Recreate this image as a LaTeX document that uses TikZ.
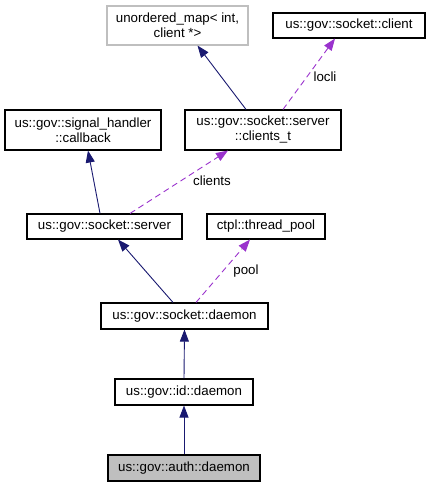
\documentclass[tikz,border=0pt]{standalone}
\usepackage{fontspec}
\setmainfont{Liberation Sans}
\usetikzlibrary{arrows.meta}
\definecolor{edgenavy}{HTML}{191970}
\definecolor{edgepurple}{HTML}{9A32CD}
\definecolor{boxgray}{HTML}{BFBFBF}
\tikzset{
  cls/.style={draw=black, line width=1.1pt, fill=white, inner sep=0pt, align=center,
    font=\fontsize{13.3}{15}\selectfont},
  extcls/.style={cls, draw=boxgray},
  focus/.style={cls, fill=boxgray},
  inherit/.style={draw=edgenavy, line width=0.9pt,
    -{Triangle[length=12pt, width=9pt, fill=edgenavy]}},
  member/.style={draw=edgepurple, line width=0.9pt, dash pattern=on 6pt off 4pt,
    -{Triangle[length=12pt, width=9pt, fill=edgepurple]}},
  lbl/.style={font=\fontsize{13.3}{15}\selectfont, inner sep=0pt}
}
\begin{document}
\begin{tikzpicture}[x=1pt, y=-1pt]
\useasboundingbox (0,0) rectangle (429,487);
% classes
\node[extcls, minimum width=141pt, minimum height=39pt] (umap) at (177.5,25.5) {unordered\_map< int,\\client *>};
\node[cls, minimum width=152pt, minimum height=25pt] (client) at (349,25.5) {us::gov::socket::client};
\node[cls, minimum width=156pt, minimum height=40pt] (callback) at (83,130) {us::gov::signal\_handler\\::callback};
\node[cls, minimum width=156pt, minimum height=40pt] (clientst) at (263,130) {us::gov::socket::server\\::clients\_t};
\node[cls, minimum width=155pt, minimum height=25pt] (server) at (104.5,226.5) {us::gov::socket::server};
\node[cls, minimum width=118pt, minimum height=25pt] (pool) at (266,226.5) {ctpl::thread\_pool};
\node[cls, minimum width=167pt, minimum height=26pt] (sdaemon) at (184.5,316) {us::gov::socket::daemon};
\node[cls, minimum width=138pt, minimum height=26pt] (iddaemon) at (184,392) {us::gov::id::daemon};
\node[focus, minimum width=152pt, minimum height=26pt] (auth) at (184,468) {us::gov::auth::daemon};
% inheritance
\draw[inherit] ([xshift=-17pt]clientst.north) -- ([xshift=20pt]umap.south);
\draw[inherit] ([xshift=-4.5pt]server.north) -- ([xshift=5pt]callback.south);
\draw[inherit] ([xshift=-11.5pt]sdaemon.north) -- ([xshift=13.5pt]server.south);
\draw[inherit] (iddaemon.north) -- (sdaemon.south);
\draw[inherit] (auth.north) -- (iddaemon.south);
% members
\draw[member] ([xshift=20pt]clientst.north) -- ([xshift=-14pt]client.south);
\draw[member] ([xshift=25.5pt]server.north) -- ([xshift=-35pt]clientst.south);
\draw[member] ([xshift=11.5pt]sdaemon.north) -- ([xshift=-16pt]pool.south);
% labels
\node[lbl] (llocli) at (325,77) {locli};
\node[lbl] (lclients) at (212,181) {clients};
\node[lbl] (lpool) at (246,271) {pool};
\end{tikzpicture}
\end{document}
